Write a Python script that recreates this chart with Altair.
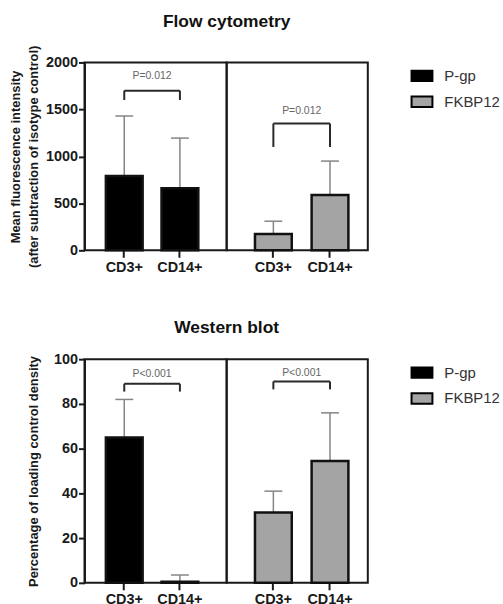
import altair as alt
import pandas as pd

cells = ["CD3+", "CD14+"]
proteins = ["P-gp", "FKBP12"]
colors = ["#000000", "#a4a4a4"]

# Flow cytometry (mean, SD)
flow_pgp_mean = [790, 660]
flow_pgp_sd = [640, 535]
flow_fkbp_mean = [175, 590]
flow_fkbp_sd = [135, 360]
flow_ticks = [0, 500, 1000, 1500, 2000]
flow_p_label = ["P=0.012", "P=0.012"]
flow_bracket_top = [1700, 1350]
flow_bracket_leg = [1600, 1100]
flow_p_y = [1860, 1485]

# Western blot (mean, SD)
wb_pgp_mean = [65, 0.5]
wb_pgp_sd = [17, 3]
wb_fkbp_mean = [31.5, 54.5]
wb_fkbp_sd = [9.5, 21.5]
wb_ticks = [0, 20, 40, 60, 80, 100]
wb_p_label = ["P<0.001", "P<0.001"]
wb_bracket_top = [89, 90]
wb_bracket_leg = [85.5, 86.5]
wb_p_y = [93.3, 94]

FONT = "Liberation Sans"
LEFT_W, RIGHT_W = 143, 142


def legend():
    return alt.Legend(
        title=None, orient="none", legendX=185, legendY=2,
        symbolType="M-1,-0.5H1V0.5H-1Z", symbolSize=441,
        symbolStrokeColor="black", symbolStrokeWidth=2, symbolOpacity=1,
        labelFont=FONT, labelFontSize=15, labelColor="#333333",
        labelOffset=11, rowPadding=5, padding=0,
    )


def panel(means, sds, protein, ymax, ticks, ytitle, title_pad, plabel, ptop, pleg, pty,
          width, height, po, align, step, show_y, title=None):
    uppers = [m + s for m, s in zip(means, sds)]
    df = pd.DataFrame({"cell": cells, "mean": means, "upper": uppers,
                       "protein": [protein] * 2})
    cdf = pd.DataFrame({"cell": cells, "cap": uppers})
    xscale = alt.Scale(domain=cells, paddingInner=0, paddingOuter=po, align=align)
    xaxis = alt.Axis(title=None, labelAngle=0, labelFont=FONT, labelFontSize=14.5,
                     labelFontWeight="bold", labelColor="#1a1a1a", tickSize=7,
                     tickWidth=2, tickColor="#1a1a1a", labelPadding=3, domain=False)
    x = alt.X("cell:N", scale=xscale, sort=cells, axis=xaxis)
    yscale = alt.Scale(domain=[0, ymax], nice=False)
    if show_y:
        yaxis = alt.Axis(values=ticks, format="d", labelFont=FONT, labelFontSize=14.5,
                         labelFontWeight="bold", labelColor="#1a1a1a", tickSize=6,
                         tickWidth=2, tickColor="#1a1a1a", labelPadding=1,
                         domainColor="#1a1a1a", domainWidth=2, grid=False,
                         titleFont=FONT, titleFontSize=13, titleFontWeight="bold",
                         titleColor="#1a1a1a", titleLineHeight=18, titlePadding=title_pad)
    else:
        yaxis = None

    def Y(field):
        return alt.Y(field, scale=yscale, axis=yaxis, title=ytitle)

    err = alt.Chart(df).mark_rule(color="#858585", strokeWidth=1.5).encode(
        x=x, y=Y("mean:Q"), y2="upper:Q")
    cap = alt.Chart(cdf).mark_point(shape="M-1,0H1", size=324, filled=False, color="#858585",
                                    strokeWidth=1.5, opacity=1).encode(x=x, y=Y("cap:Q"))
    bars = alt.Chart(df).mark_bar(size=37, stroke="#111111", strokeWidth=2.5).encode(
        x=x, y=Y("mean:Q"),
        color=alt.Color("protein:N", scale=alt.Scale(domain=proteins, range=colors),
                        legend=None if show_y else legend()))
    bdf = pd.DataFrame({"a": [cells[0]], "b": [cells[1]], "top": [ptop],
                        "ty": [pty], "label": [plabel]})
    ldf = pd.DataFrame({"cell": cells, "top": [ptop, ptop], "leg": [pleg, pleg]})
    hline = alt.Chart(bdf).mark_rule(color="#2a2a2a", strokeWidth=2).encode(
        x=alt.X("a:N", scale=xscale, sort=cells, axis=xaxis), x2="b:N", y=Y("top:Q"))
    legs = alt.Chart(ldf).mark_rule(color="#2a2a2a", strokeWidth=2).encode(
        x=x, y=Y("leg:Q"), y2="top:Q")
    txt = alt.Chart(bdf).mark_text(dx=step / 2, font=FONT, fontSize=10.5, color="#666666",
                                   baseline="middle").encode(
        x=alt.X("a:N", scale=xscale, sort=cells, axis=xaxis), y=Y("ty:Q"), text="label:N")
    props = dict(width=width, height=height)
    if title is not None:
        props["title"] = alt.TitleParams(title, anchor="end", align="center", frame="group",
                                         font=FONT, fontSize=17.5, fontWeight="bold",
                                         color="#111111", baseline="alphabetic", offset=1)
    return alt.layer(err, bars, cap, hline, legs, txt).properties(**props)


def row(pgp_m, pgp_s, fk_m, fk_s, ymax, ticks, ytitle, title_pad, plabels, ptops, plegs, ptys,
        height, title):
    left = panel(pgp_m, pgp_s, "P-gp", ymax, ticks, ytitle, title_pad, plabels[0], ptops[0],
                 plegs[0], ptys[0], LEFT_W, height, 0.277, 0.387, 56, True, title)
    right = panel(fk_m, fk_s, "FKBP12", ymax, ticks, ytitle, title_pad, plabels[1], ptops[1],
                  plegs[1], ptys[1], RIGHT_W, height, 0.246, 0.66, 57, False)
    return alt.hconcat(left, right, spacing=0, bounds="flush").resolve_scale(
        color="independent")


top = row(flow_pgp_mean, flow_pgp_sd, flow_fkbp_mean, flow_fkbp_sd, 2000, flow_ticks,
          ["Mean fluorescence intensity", "(after subtraction of isotype control)"], 5,
          flow_p_label, flow_bracket_top, flow_bracket_leg, flow_p_y, 189, "Flow cytometry")
bottom = row(wb_pgp_mean, wb_pgp_sd, wb_fkbp_mean, wb_fkbp_sd, 100, wb_ticks,
             [" ", "Percentage of loading control density"], 13,
             wb_p_label, wb_bracket_top, wb_bracket_leg, wb_p_y, 225, "Western blot")

chart = alt.vconcat(top, bottom, spacing=42.5).resolve_scale(
    color="independent").properties(
    padding={"left": 8, "top": 10, "right": 2, "bottom": 2}, background="white"
).configure_view(stroke="#1a1a1a", strokeWidth=2)

chart.save("out.html", embed_options={"renderer": "svg", "actions": False})
